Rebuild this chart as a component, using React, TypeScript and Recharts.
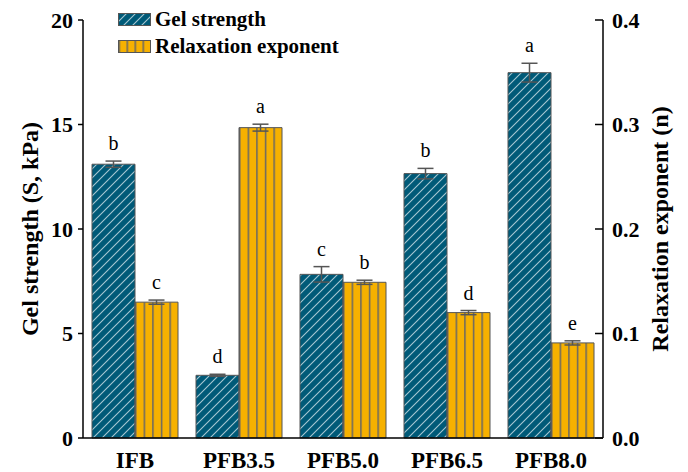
import React from 'react';
import { BarChart, Bar, XAxis, YAxis, ErrorBar, LabelList, Legend } from 'recharts';

const categories = ['IFB', 'PFB3.5', 'PFB5.0', 'PFB6.5', 'PFB8.0'];
const gelStrength = [13.1, 3.0, 7.83, 12.65, 17.48];
const gelError = [0.15, 0.05, 0.37, 0.25, 0.45];
const gelLetters = ['b', 'd', 'c', 'b', 'a'];
const relaxExponent = [0.13, 0.297, 0.149, 0.12, 0.091];
const relaxError = [0.002, 0.0033, 0.002, 0.002, 0.002];
const relaxLetters = ['c', 'a', 'b', 'd', 'e'];
const leftTicks = [0, 5, 10, 15, 20];
const rightTicks = [0, 0.1, 0.2, 0.3, 0.4];

const data = categories.map((c, i) => ({
  name: c,
  gel: gelStrength[i],
  gelErr: gelError[i],
  relax: relaxExponent[i],
  relaxErr: relaxError[i],
}));

const FONT = '"Liberation Serif", "Times New Roman", serif';

const makeLetter = (letters: string[], errs: number[]) => (props: any) => {
  const vb = props.viewBox || props;
  const x = vb.x ?? props.x;
  const y = vb.y ?? props.y;
  const width = vb.width ?? props.width;
  const height = Math.abs(vb.height ?? props.height);
  const idx = props.index;
  const value = Number(props.value);
  const pxPer = value ? height / value : 0;
  const errTop = y - errs[idx] * pxPer;
  return (
    <text x={x + width / 2} y={errTop - 11} textAnchor="middle" fontSize={20} fontFamily={FONT} fill="#000">
      {letters[idx]}
    </text>
  );
};

const RightTick = (props: any) => {
  const { x, y, payload } = props;
  return (
    <g>
      <line x1={x - 8} x2={x} y1={y} y2={y} stroke="#000" strokeWidth={1.5} />
      <text x={x + 9} y={y} dy="0.355em" textAnchor="start" fontSize={22} fontWeight="bold" fontFamily={FONT} fill="#000">
        {Number(payload.value).toFixed(1)}
      </text>
    </g>
  );
};

const LeftTitle = (props: any) => {
  const vb = props.viewBox || {};
  const cx = (vb.x ?? 0) + 30;
  const cy = (vb.y ?? 20) + (vb.height ?? 418) / 2;
  return (
    <text x={cx} y={cy} transform={`rotate(-90, ${cx}, ${cy})`} textAnchor="middle" dominantBaseline="central" fontSize={24} fontWeight="bold" fontFamily={FONT} fill="#000">
      Gel strength (S, kPa)
    </text>
  );
};

const RightTitle = (props: any) => {
  const vb = props.viewBox || {};
  const cx = (vb.x ?? 603) + 57;
  const cy = (vb.y ?? 20) + (vb.height ?? 418) / 2;
  return (
    <text x={cx} y={cy} transform={`rotate(-90, ${cx}, ${cy})`} textAnchor="middle" dominantBaseline="central" fontSize={24} fontWeight="bold" fontFamily={FONT} fill="#000">
      Relaxation exponent (n)
    </text>
  );
};

const LegendBox = () => (
  <div style={{ fontFamily: FONT, fontWeight: 'bold', fontSize: 21, color: '#000', lineHeight: '27px' }}>
    <div style={{ display: 'flex', alignItems: 'center', height: 27 }}>
      <svg width={33} height={13} style={{ marginRight: 4 }}>
        <rect x={0.5} y={0.5} width={32} height={12} fill="url(#gelHatch)" stroke="#555" strokeWidth={1} />
      </svg>
      <span>Gel strength</span>
    </div>
    <div style={{ display: 'flex', alignItems: 'center', height: 27 }}>
      <svg width={33} height={13} style={{ marginRight: 4 }}>
        <rect x={0.5} y={0.5} width={32} height={12} fill="url(#relaxStripeLegend)" stroke="#555" strokeWidth={1} />
      </svg>
      <span>Relaxation exponent</span>
    </div>
  </div>
);

export default function App() {
  return (
    <div style={{ position: 'absolute', left: 0, top: 0, width: 688, height: 472, background: '#fff' }}>
      <svg width={0} height={0} style={{ position: 'absolute' }}>
        <defs>
          <pattern id="gelHatch" patternUnits="userSpaceOnUse" width={9} height={9}>
            <rect width={9} height={9} fill="#005a78" />
            <path d="M0,9 L9,0 M-2,2 L2,-2 M7,11 L11,7" stroke="#a6c6d2" strokeWidth={1.1} />
          </pattern>
          <pattern id="relaxStripe" patternUnits="objectBoundingBox" width={0.2} height={1}>
            <rect x={0} y={0} width={100} height={2000} fill="#f6b100" />
            <line x1={0.75} y1={0} x2={0.75} y2={2000} stroke="#666" strokeWidth={1.5} />
          </pattern>
          <pattern id="relaxStripeLegend" patternUnits="objectBoundingBox" width={0.25} height={1}>
            <rect x={0} y={0} width={100} height={200} fill="#f6b100" />
            <line x1={0.75} y1={0} x2={0.75} y2={200} stroke="#666" strokeWidth={1.5} />
          </pattern>
        </defs>
      </svg>
      <BarChart
        width={688}
        height={472}
        data={data}
        margin={{ top: 20, right: 0, bottom: 0, left: 0 }}
        barCategoryGap={9}
        barGap={0}
      >
        <XAxis
          dataKey="name"
          height={34}
          tickLine={false}
          tickSize={6}
          tickMargin={8}
          axisLine={{ stroke: '#000', strokeWidth: 1.5 }}
          tick={{ fontSize: 23, fontWeight: 'bold', fontFamily: FONT, fill: '#000' }}
        />
        <YAxis
          yAxisId="l"
          orientation="left"
          width={83}
          domain={[0, 20]}
          ticks={leftTicks}
          tickSize={5}
          tickMargin={5}
          axisLine={{ stroke: '#000', strokeWidth: 1.5 }}
          tickLine={{ stroke: '#000', strokeWidth: 1.5 }}
          tick={{ fontSize: 22, fontWeight: 'bold', fontFamily: FONT, fill: '#000' }}
          label={(p: any) => <LeftTitle {...p} />}
        />
        <YAxis
          yAxisId="r"
          orientation="right"
          width={85}
          domain={[0, 0.4]}
          ticks={rightTicks}
          tickSize={0}
          tickMargin={0}
          tickLine={false}
          axisLine={{ stroke: '#000', strokeWidth: 1.5 }}
          tick={<RightTick />}
          label={(p: any) => <RightTitle {...p} />}
        />
        <Legend
          layout="horizontal"
          verticalAlign="middle"
          align="center"
          wrapperStyle={{ top: 6, left: 118, width: 'auto' }}
          content={() => <LegendBox />}
        />
        <Bar dataKey="gel" yAxisId="l" fill="url(#gelHatch)" stroke="#555" strokeWidth={1} isAnimationActive={false}>
          <ErrorBar dataKey="gelErr" width={8} stroke="#555" strokeWidth={1.5} direction="y" />
          <LabelList dataKey="gel" content={makeLetter(gelLetters, gelError)} />
        </Bar>
        <Bar dataKey="relax" yAxisId="r" fill="url(#relaxStripe)" stroke="#555" strokeWidth={1} isAnimationActive={false}>
          <ErrorBar dataKey="relaxErr" width={8} stroke="#555" strokeWidth={1.5} direction="y" />
          <LabelList dataKey="relax" content={makeLetter(relaxLetters, relaxError)} />
        </Bar>
      </BarChart>
    </div>
  );
}
